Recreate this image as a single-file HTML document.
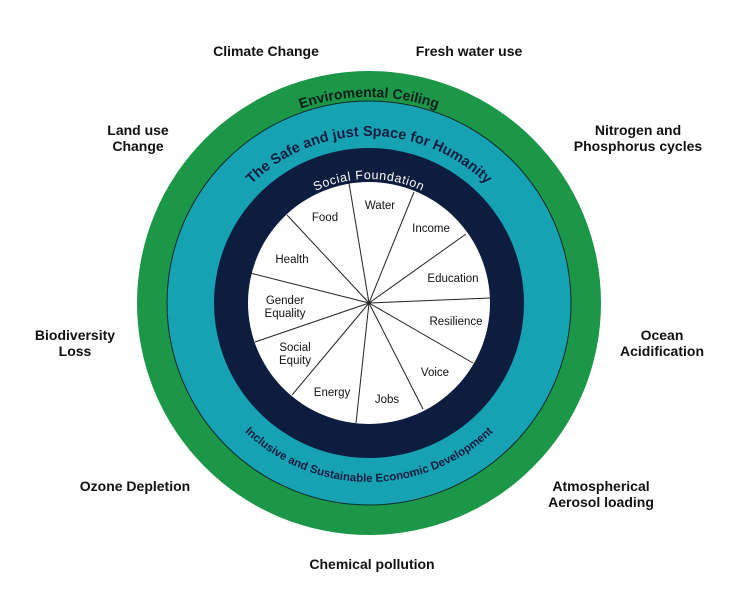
<!DOCTYPE html>
<html><head><meta charset="utf-8"><style>
body{margin:0;background:#fff;}
svg{display:block;font-family:"Liberation Sans",sans-serif;}
.o{font-size:14px;font-weight:bold;fill:#111;text-anchor:middle;}
.w{font-size:11.5px;fill:#111;text-anchor:middle;}
</style></head><body>
<svg width="749" height="598" viewBox="0 0 749 598">
<defs>
<path id="p1" d="M163,303 A206,206 0 0 1 575,303"/>
<path id="p2" d="M202,303 A167,167 0 0 1 536,303"/>
<path id="p3" d="M245,303 A124,124 0 0 1 493,303"/>
<path id="p4" d="M190,303 A179,179 0 0 0 548,303"/>
</defs>
<circle cx="369" cy="303" r="232" fill="#1b9747"/>
<circle cx="369" cy="303" r="202" fill="#17a2b3" stroke="#0d2a2a" stroke-width="1"/>
<circle cx="369" cy="303" r="155" fill="#0d1d3f"/>
<circle cx="369" cy="303" r="121" fill="#fff"/>
<g stroke="#222" stroke-width="1">
<line x1="369" y1="303" x2="349" y2="183"/>
<line x1="369" y1="303" x2="414" y2="192"/>
<line x1="369" y1="303" x2="466" y2="234"/>
<line x1="369" y1="303" x2="490" y2="298"/>
<line x1="369" y1="303" x2="473" y2="363"/>
<line x1="369" y1="303" x2="423" y2="409"/>
<line x1="369" y1="303" x2="356" y2="423"/>
<line x1="369" y1="303" x2="292" y2="395"/>
<line x1="369" y1="303" x2="255" y2="342"/>
<line x1="369" y1="303" x2="250" y2="273"/>
<line x1="369" y1="303" x2="287" y2="215"/>
</g>
<text font-size="14" font-weight="bold" fill="#0d1d1d" text-anchor="middle"><textPath href="#p1" startOffset="50%">Enviromental Ceiling</textPath></text>
<text font-size="14.5" font-weight="bold" fill="#0d1d3f" text-anchor="middle"><textPath href="#p2" startOffset="50%">The Safe and just Space for Humanity</textPath></text>
<text font-size="12.5" fill="#fff" text-anchor="middle" letter-spacing="0.6"><textPath href="#p3" startOffset="50%">Social Foundation</textPath></text>
<text font-size="11.5" font-weight="bold" fill="#0d1d3f" text-anchor="middle"><textPath href="#p4" startOffset="50%">Inclusive and Sustainable Economic Development</textPath></text>
<g class="w">
<text x="380" y="209">Water</text>
<text x="325" y="221">Food</text>
<text x="431" y="232">Income</text>
<text x="292" y="263">Health</text>
<text x="453" y="282">Education</text>
<text x="285" y="304">Gender</text>
<text x="285" y="317">Equality</text>
<text x="456" y="325">Resilience</text>
<text x="295" y="351">Social</text>
<text x="295" y="364">Equity</text>
<text x="435" y="376">Voice</text>
<text x="332" y="396">Energy</text>
<text x="387" y="403">Jobs</text>
</g>
<g class="o">
<text x="266" y="56">Climate Change</text>
<text x="469" y="56">Fresh water use</text>
<text x="138" y="135">Land use</text>
<text x="138" y="151">Change</text>
<text x="638" y="135">Nitrogen and</text>
<text x="638" y="151">Phosphorus cycles</text>
<text x="75" y="340">Biodiversity</text>
<text x="75" y="356">Loss</text>
<text x="662" y="340">Ocean</text>
<text x="662" y="356">Acidification</text>
<text x="135" y="491">Ozone Depletion</text>
<text x="601" y="491">Atmospherical</text>
<text x="601" y="507">Aerosol loading</text>
<text x="372" y="569">Chemical pollution</text>
</g>
</svg>
</body></html>
